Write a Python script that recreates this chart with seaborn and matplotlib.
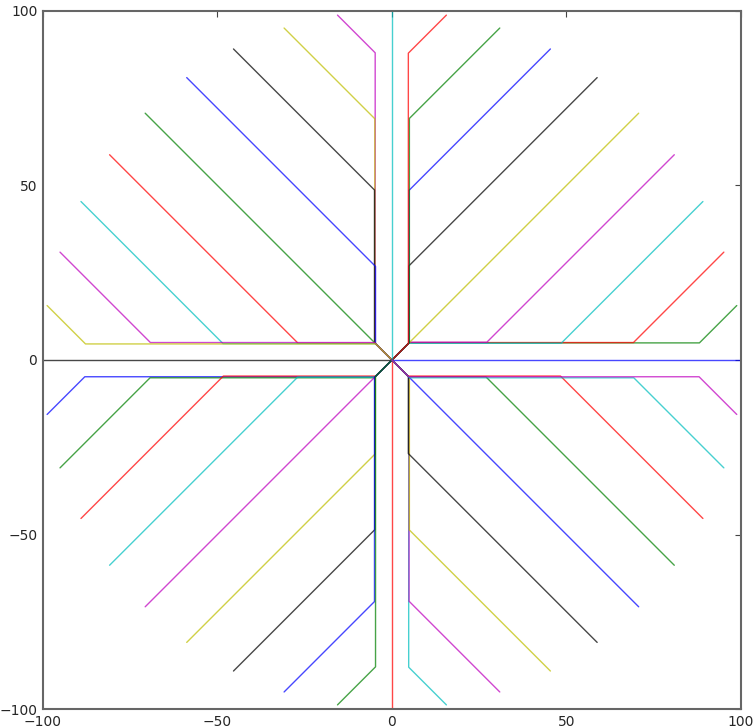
import pandas as pd
import numpy as np
import matplotlib
matplotlib.use("Agg")
import matplotlib.pyplot as plt
import seaborn as sns

# end point of every line, counter-clockwise from the positive x axis
end_x = [100, 98.8, 95.1, 89.1, 80.9, 70.7, 58.8, 45.4, 30.9, 15.6,
         0, -15.6, -30.9, -45.4, -58.8, -70.7, -80.9, -89.1, -95.1, -98.8,
         -100, -98.8, -95.1, -89.1, -80.9, -70.7, -58.8, -45.4, -30.9, -15.6,
         0, 15.6, 30.9, 45.4, 58.8, 70.7, 80.9, 89.1, 95.1, 98.8]
end_y = [0, 15.6, 30.9, 45.4, 58.8, 70.7, 80.9, 89.1, 95.1, 98.8,
         100, 98.8, 95.1, 89.1, 80.9, 70.7, 58.8, 45.4, 30.9, 15.6,
         0, -15.6, -30.9, -45.4, -58.8, -70.7, -80.9, -89.1, -95.1, -98.8,
         -100, -98.8, -95.1, -89.1, -80.9, -70.7, -58.8, -45.4, -30.9, -15.6]

# first bend, just off the origin
corner_x = [0, 4.9, 5.0, 4.8, 5.1, 5.0, 4.8, 4.9, 5.0, 4.7,
            0, -4.8, -4.9, -5.0, -4.7, -5.0, -4.8, -4.7, -5.0, -4.6,
            0, -4.8, -5.1, -4.6, -4.9, -5.0, -4.8, -4.9, -5.0, -4.7,
            0, 4.8, 4.9, 5.0, 4.7, 5.0, 4.8, 4.6, 5.1, 4.8]
corner_y = [0, 4.9, 5.0, 4.8, 5.1, 5.0, 4.8, 4.9, 5.0, 4.7,
            0, 4.8, 4.9, 5.0, 4.7, 5.0, 4.8, 4.7, 5.0, 4.6,
            0, -4.8, -5.1, -4.6, -4.9, -5.0, -4.8, -4.9, -5.0, -4.7,
            0, -4.8, -4.9, -5.0, -4.7, -5.0, -4.8, -4.6, -5.1, -4.8]

# second bend, where the line leaves the track along the axis
knee_x = [0, 88.1, 69.2, 48.5, 27.2, 5.0, 4.8, 4.9, 5.0, 4.7,
          0, -4.8, -4.9, -5.0, -4.7, -5.0, -26.9, -48.4, -69.2, -87.8,
          0, -88.0, -69.3, -48.3, -27.0, -5.0, -4.8, -4.9, -5.0, -4.7,
          0, 4.8, 4.9, 5.0, 4.7, 5.0, 26.9, 48.3, 69.3, 88.0]
knee_y = [0, 4.9, 5.0, 4.8, 5.1, 5.0, 26.9, 48.6, 69.2, 87.9,
          0, 88.0, 69.1, 48.7, 26.8, 5.0, 4.8, 4.7, 5.0, 4.6,
          0, -4.8, -5.1, -4.6, -4.9, -5.0, -26.9, -48.6, -69.2, -87.9,
          0, -88.0, -69.1, -48.7, -26.8, -5.0, -4.8, -4.6, -5.1, -4.8]

ticks = [-100, -50, 0, 50, 100]

#old matplotlib colour cycle b g r c m y k
classic = [(0, 0, 1), (0, 0.5, 0), (1, 0, 0), (0, 0.75, 0.75),
           (0.75, 0, 0.75), (0.75, 0.75, 0), (0, 0, 0)]

#long table: one row per vertex
rows = []
for i in range(len(end_x)):
    pts = [(0, 0), (corner_x[i], corner_y[i]), (knee_x[i], knee_y[i]), (end_x[i], end_y[i])]
    for j, (px, py) in enumerate(pts):
        rows.append({"line": i, "order": j, "x": px, "y": py})
df = pd.DataFrame(rows)

palette = [classic[i % len(classic)] for i in range(len(end_x))]

sns.set_style("white")
plt.rcParams['font.family'] = ['DejaVu Sans']
plt.rcParams['axes.unicode_minus'] = True

fig = plt.figure(figsize=(7.53, 7.28), dpi=100)
ax = fig.add_axes([0.057, 0.026, 0.927, 0.959])

sns.lineplot(data=df, x="x", y="y", hue="line", palette=palette, sort=False,
             estimator=None, legend=False, linewidth=1.0, alpha=0.72, ax=ax)

ax.set_xlim(-100, 100)
ax.set_ylim(-100, 100)
ax.set_xticks(ticks)
ax.set_yticks(ticks)
ax.set_xlabel("")
ax.set_ylabel("")
ax.tick_params(direction="in", length=4, width=0.8, top=True, right=True,
               labelsize=10, pad=4, color="#444444")
for sp in ax.spines.values():
    sp.set_color("#666666")
    sp.set_linewidth(1.5)

plt.savefig("out.png", dpi=100)
